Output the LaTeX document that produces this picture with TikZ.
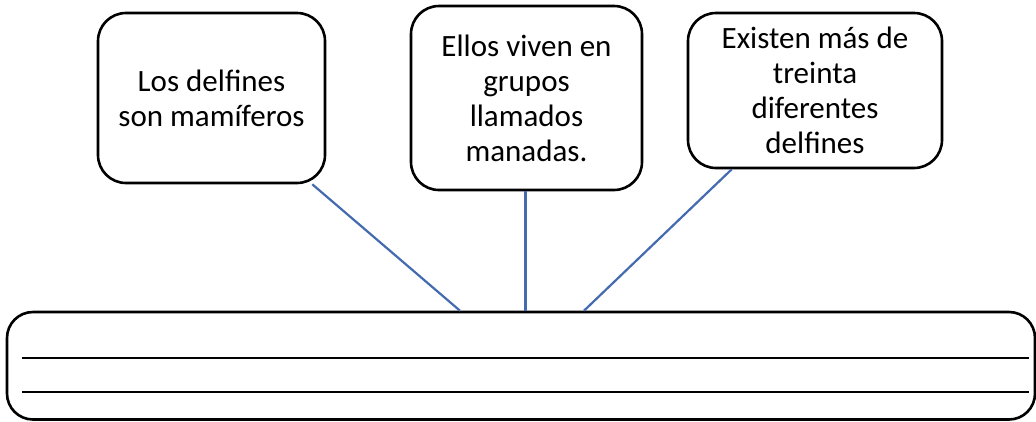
\documentclass[tikz,border=0pt]{standalone}
\usepackage{fontspec}
\setmainfont{Carlito}
\definecolor{connblue}{RGB}{68,106,176}
\begin{document}
\begin{tikzpicture}[x=1pt,y=-1pt,
  box/.style={draw=black,line width=2.6pt,rounded corners=28pt,rectangle,
    inner sep=0pt,align=center,font=\fontsize{31}{35}\selectfont},
  conn/.style={draw=connblue,line width=2.2pt},
  writeline/.style={draw=black,line width=1.3pt}]
\useasboundingbox (0,0) rectangle (1036,421);
\fill[white] (0,0) rectangle (1036,421);
\node[box,minimum width=227pt,minimum height=170pt] (b1) at (211.5,98) {Los delfines\\son mamíferos};
\node[box,minimum width=231pt,minimum height=184pt] (b2) at (526.5,98) {Ellos viven en\\grupos\\llamados\\manadas.};
\node[box,minimum width=254pt,minimum height=155pt] (b3) at (815,90.5) {Existen más de\\treinta\\diferentes\\delfines};
\node[box,rounded corners=26pt,minimum width=1028pt,minimum height=107.5pt] (bot) at (521,365.75) {};
\coordinate (s1) at ([xshift=-14pt]b1.south east);
\coordinate (s3) at ([xshift=45pt]b3.south west);
\coordinate (e1) at ([xshift=-61pt]bot.north);
\coordinate (e2) at ([xshift=4.5pt]bot.north);
\coordinate (e3) at ([xshift=63pt]bot.north);
\draw[conn] (s1) -- (e1);
\draw[conn] (b2.south -| e2) -- (e2);
\draw[conn] (s3) -- (e3);
\coordinate (w1a) at (22,358);
\coordinate (w1b) at (1029,358);
\coordinate (w2a) at (22,392);
\coordinate (w2b) at (1029,392);
\draw[writeline] (w1a) -- (w1b);
\draw[writeline] (w2a) -- (w2b);
\end{tikzpicture}
\end{document}
